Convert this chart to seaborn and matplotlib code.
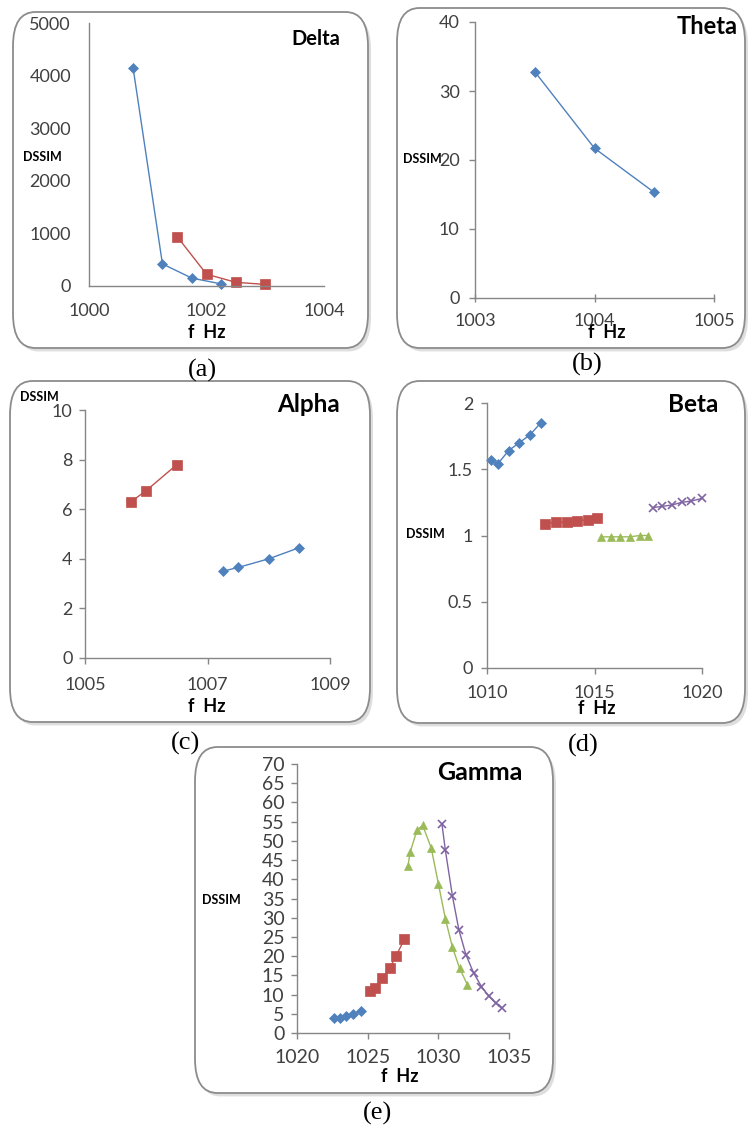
import numpy as np
import pandas as pd
import matplotlib
matplotlib.use("Agg")
import matplotlib.pyplot as plt
import seaborn as sns
from matplotlib.patches import FancyBboxPatch

sns.set_theme(style="white")
plt.rcParams['font.family'] = ['Lato', 'DejaVu Sans']

# ---------------- data ----------------
delta_blue_f = [1000.75, 1001.25, 1001.75, 1002.25]
delta_blue_d = [4150, 420, 150, 40]
delta_red_f = [1001.5, 1002.0, 1002.5, 1003.0]
delta_red_d = [940, 225, 70, 30]

theta_f = [1003.5, 1004.0, 1004.5]
theta_d = [32.8, 21.7, 15.3]

alpha_red_f = [1005.75, 1006.0, 1006.5]
alpha_red_d = [6.3, 6.75, 7.8]
alpha_blue_f = [1007.25, 1007.5, 1008.0, 1008.5]
alpha_blue_d = [3.5, 3.65, 4.0, 4.45]

beta_blue_f = [1010.2, 1010.5, 1011.0, 1011.5, 1012.0, 1012.5]
beta_blue_d = [1.57, 1.54, 1.64, 1.70, 1.76, 1.85]
beta_red_f = [1012.7, 1013.2, 1013.7, 1014.2, 1014.7, 1015.1]
beta_red_d = [1.09, 1.10, 1.10, 1.11, 1.12, 1.13]
beta_green_f = [1015.3, 1015.75, 1016.2, 1016.65, 1017.1, 1017.5]
beta_green_d = [0.99, 0.99, 0.99, 0.99, 1.0, 1.0]
beta_purple_f = [1017.7, 1018.15, 1018.6, 1019.05, 1019.5, 1020.0]
beta_purple_d = [1.21, 1.22, 1.23, 1.25, 1.26, 1.28]

gamma_blue_f = [1022.6, 1023.05, 1023.5, 1023.95, 1024.5]
gamma_blue_d = [4.0, 4.0, 4.4, 4.9, 5.6]
gamma_red_f = [1025.2, 1025.5, 1026.0, 1026.55, 1027.0, 1027.6]
gamma_red_d = [11.0, 11.7, 14.2, 16.8, 20.0, 24.4]
gamma_green_f = [1027.85, 1028.0, 1028.5, 1028.9, 1029.5, 1030.0, 1030.5, 1031.0, 1031.5, 1032.05]
gamma_green_d = [43.4, 47.0, 52.9, 54.0, 48.1, 38.9, 29.7, 22.3, 16.9, 12.6]
gamma_purple_f = [1030.25, 1030.5, 1031.0, 1031.45, 1031.95, 1032.5, 1033.05, 1033.55, 1034.05, 1034.5]
gamma_purple_d = [54.5, 47.5, 35.6, 26.9, 20.4, 15.6, 12.1, 9.7, 7.8, 6.5]

BLUE, RED, GREEN, PURPLE = "#4F81BD", "#C0504D", "#9BBB59", "#8064A2"
AXC = "#868686"
TXC = "#404040"

W, H = 748, 1137
fig = plt.figure(figsize=(W / 100, H / 100), dpi=100)
fig.patch.set_facecolor("white")


def box(x0, y0, x1, y1):
    sh = FancyBboxPatch((x0 / W + 0.004, 1 - y1 / H - 0.003), (x1 - x0) / W, (y1 - y0) / H,
                        boxstyle="round,pad=0,rounding_size=0.03", transform=fig.transFigure,
                        facecolor="#c8c8c8", edgecolor="none", zorder=-2, alpha=0.6)
    fig.patches.append(sh)
    b = FancyBboxPatch((x0 / W, 1 - y1 / H), (x1 - x0) / W, (y1 - y0) / H,
                       boxstyle="round,pad=0,rounding_size=0.03", transform=fig.transFigure,
                       facecolor="white", edgecolor="#8c8c8c", linewidth=1.3, zorder=-1)
    fig.patches.append(b)


def ax_at(x0, x1, ybot, ytop, lsize=13, xpad=8, ypad=5):
    a = fig.add_axes([x0 / W, 1 - ybot / H, (x1 - x0) / W, (ybot - ytop) / H])
    a.patch.set_alpha(0)
    for s in ["top", "right"]:
        a.spines[s].set_visible(False)
    for s in ["left", "bottom"]:
        a.spines[s].set_color(AXC)
        a.spines[s].set_linewidth(1.0)
    a.tick_params(axis="both", which="both", direction="out", length=4, width=1.0,
                  color=AXC, labelsize=lsize, labelcolor=TXC, left=True, bottom=True)
    a.tick_params(axis="x", pad=xpad)
    a.tick_params(axis="y", pad=ypad)
    return a


def series(a, f, d, color, marker, ms=6, mew=0.5):
    df = pd.DataFrame({"f": f, "d": d})
    sns.lineplot(data=df, x="f", y="d", ax=a, color=color, marker=marker, sort=False,
                 markersize=ms, markeredgecolor=color, markeredgewidth=mew, linewidth=1.0,
                 clip_on=False)
    a.set_xlabel("")
    a.set_ylabel("")


def txt(x, y, s, **kw):
    fig.text(x / W, 1 - y / H, s, **kw)


def title(x, y, s, size):
    txt(x, y, s, ha="right", va="center", fontsize=size, fontweight="bold", color="black")


def dssim(x, y):
    txt(x, y, "DSSIM", ha="left", va="center", fontsize=9, fontweight="bold", color="black")


def fhz(x, y):
    txt(x, y, "f  Hz", ha="center", va="center", fontsize=13, fontweight="bold", color="black")


def cap(x, y, s):
    txt(x, y, s, ha="center", va="center", fontsize=19, family="Liberation Serif", color="black")


box(13, 12, 368, 348)
box(397, 8, 745, 348)
box(10, 381, 370, 722)
box(397, 381, 745, 723)
box(195, 747, 553, 1093)

# (a) Delta
a = ax_at(89, 324, 286, 23, lsize=13)
series(a, delta_blue_f, delta_blue_d, BLUE, "D", 5)
series(a, delta_red_f, delta_red_d, RED, "s", 6.5)
a.set_xlim(1000, 1004); a.set_ylim(0, 5000)
a.set_xticks([1000, 1002, 1004]); a.set_yticks(range(0, 5001, 1000))
a.tick_params(axis="x", length=0, pad=12)
a.tick_params(axis="y", length=0, pad=13)
title(340, 39, "Delta", 14.5)
dssim(23, 157)
fhz(207, 333)
cap(202, 370, "(a)")

# (b) Theta
a = ax_at(475, 714, 298, 22, lsize=13, xpad=8, ypad=7)
series(a, theta_f, theta_d, BLUE, "D", 5)
a.set_xlim(1003, 1005); a.set_ylim(0, 40)
a.set_xticks([1003, 1004, 1005]); a.set_yticks(range(0, 41, 10))
a.tick_params(axis="x", direction="inout", length=6)
title(738, 27, "Theta", 17)
dssim(403, 159)
fhz(607, 333)
cap(587, 364, "(b)")

# (c) Alpha
a = ax_at(85, 330, 658, 410, lsize=13, xpad=9.5, ypad=5)
series(a, alpha_red_f, alpha_red_d, RED, "s", 6.5)
series(a, alpha_blue_f, alpha_blue_d, BLUE, "D", 5)
a.set_xlim(1005, 1009); a.set_ylim(0, 10)
a.set_xticks([1005, 1007, 1009]); a.set_yticks(range(0, 11, 2))
title(340, 405, "Alpha", 17.5)
dssim(20, 397)
fhz(207, 707)
cap(185, 743, "(c)")

# (d) Beta
a = ax_at(487, 702, 668, 403, lsize=13, xpad=8, ypad=6)
series(a, beta_blue_f, beta_blue_d, BLUE, "D", 5)
series(a, beta_red_f, beta_red_d, RED, "s", 6.5)
series(a, beta_green_f, beta_green_d, GREEN, "^", 6)
series(a, beta_purple_f, beta_purple_d, PURPLE, "x", 6, 1.2)
a.set_xlim(1010, 1020); a.set_ylim(0, 2)
a.set_xticks([1010, 1015, 1020]); a.set_yticks([0, 0.5, 1, 1.5, 2])
a.set_yticklabels(["0", "0.5", "1", "1.5", "2"])
title(718, 405, "Beta", 17.5)
dssim(406, 534)
fhz(597, 709)
cap(583, 745, "(d)")

# (e) Gamma
a = ax_at(297, 509, 1033, 764, lsize=14, xpad=7.5, ypad=5)
series(a, gamma_blue_f, gamma_blue_d, BLUE, "D", 5)
series(a, gamma_red_f, gamma_red_d, RED, "s", 6.5)
series(a, gamma_green_f, gamma_green_d, GREEN, "^", 6)
series(a, gamma_purple_f, gamma_purple_d, PURPLE, "x", 6, 1.2)
a.set_xlim(1020, 1035); a.set_ylim(0, 70)
a.set_xticks([1020, 1025, 1030, 1035]); a.set_yticks(range(0, 71, 5))
title(523, 773, "Gamma", 18)
dssim(202, 900)
fhz(400, 1077)
cap(378, 1113, "(e)")

fig.savefig("out.png", dpi=100)
